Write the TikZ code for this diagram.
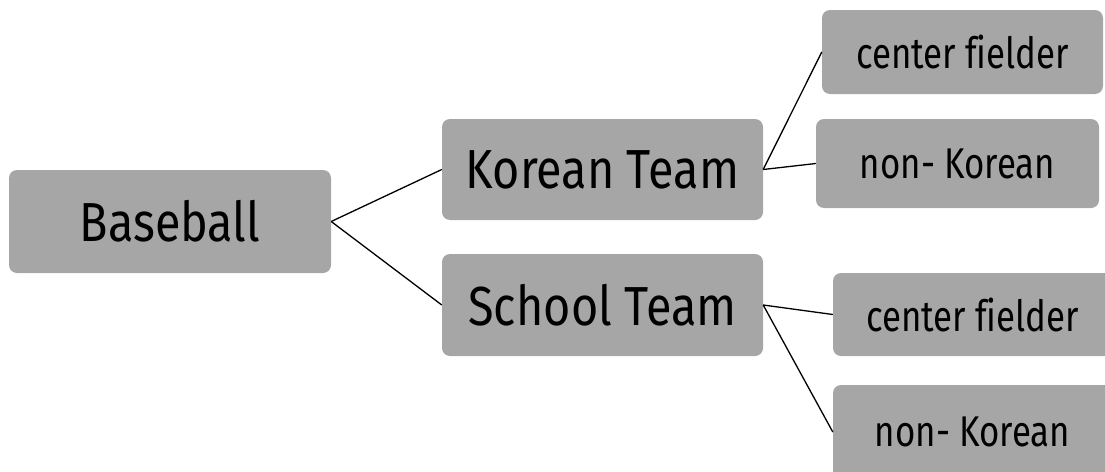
\documentclass[tikz,border=0pt]{standalone}
\usepackage{fontspec}
\setmainfont[FakeStretch=0.85, Ligatures=NoCommon]{Fira Sans}
\newfontfamily\leaffont[FakeStretch=0.81, Ligatures=NoCommon]{Fira Sans}
\definecolor{boxgray}{HTML}{A6A6A6}
\tikzset{
  card/.style={fill=boxgray, rounded corners=8pt, inner sep=0pt, anchor=center},
  big/.style={card, font=\fontsize{55}{60}\selectfont},
  small/.style={card, font=\leaffont\fontsize{43}{48}\selectfont},
  link/.style={draw=black, line width=1.3pt}
}
\begin{document}
\begin{tikzpicture}[x=1pt, y=-1pt]
  \useasboundingbox (0,0) rectangle (1105,471);
  % root
  \node[big, minimum width=322pt, minimum height=103pt] (base) at (170,221.5) {Baseball};
  % second level
  \node[big, minimum width=321pt, minimum height=101pt] (kor) at (602.5,169.5) {Korean Team};
  \node[big, minimum width=321pt, minimum height=102pt] (sch) at (602.5,305) {School Team};
  % leaves
  \node[small, minimum width=281pt, minimum height=84pt] (cfa) at (962.5,52) {center fielder};
  \node[small, minimum width=283pt, minimum height=89pt] (nka) at (957.5,163.5) {non- Korean};
  \node[small, minimum width=279pt, minimum height=83pt] (cfb) at (972.5,314.5) {center fielder};
  \node[small, minimum width=279pt, minimum height=94pt] (nkb) at (972.5,432) {non- Korean};
  % connectors
  \draw[link] (base.east) -- (kor.west);
  \draw[link] (base.east) -- (sch.west);
  \draw[link] (kor.east) -- (cfa.west);
  \draw[link] (kor.east) -- (nka.west);
  \draw[link] (sch.east) -- (cfb.west);
  \draw[link] (sch.east) -- (nkb.west);
\end{tikzpicture}
\end{document}
